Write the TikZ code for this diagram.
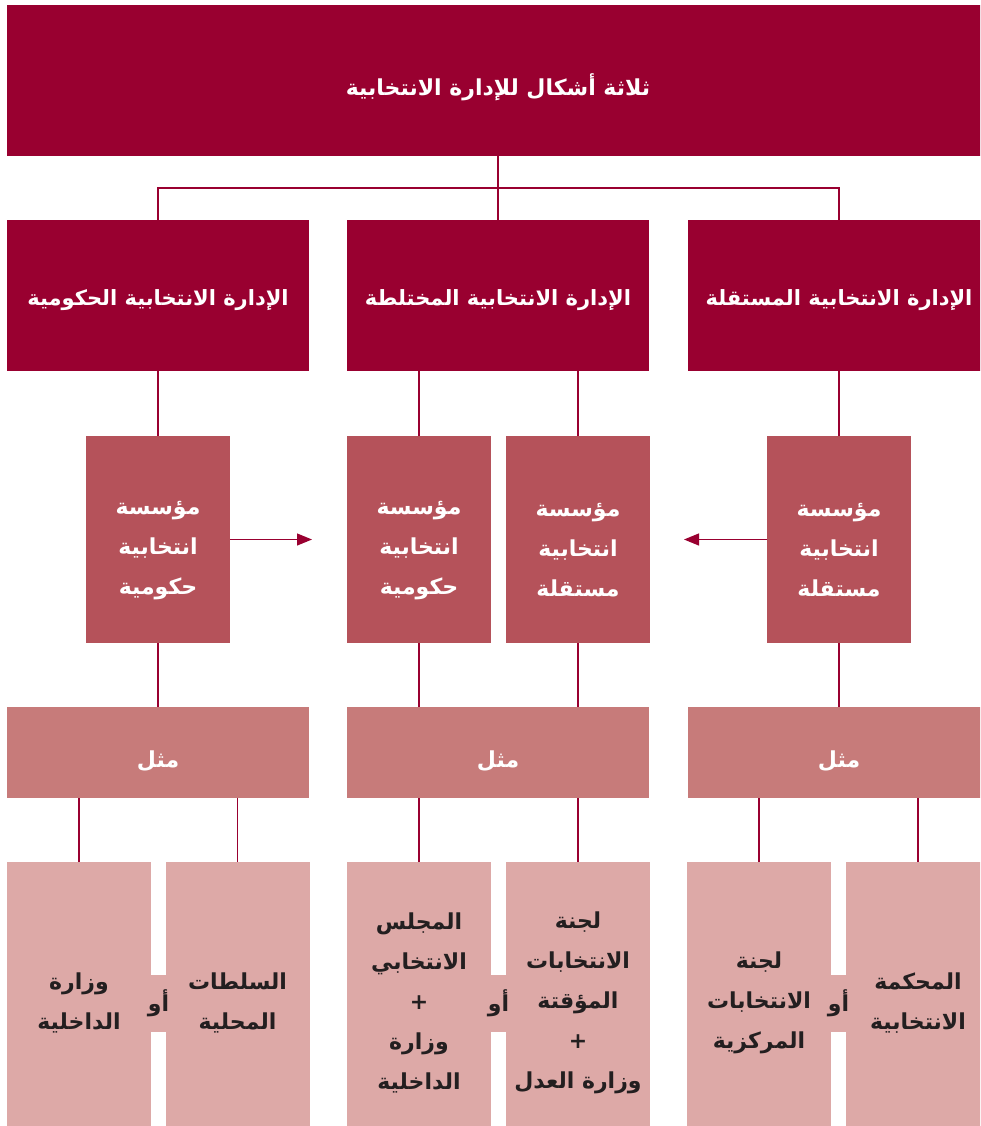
\documentclass[tikz,border=0pt]{standalone}
\usepackage{fontspec}
\newfontfamily\arabicfont[Script=Arabic]{DejaVu Sans}
\TeXXeTstate=1
\usetikzlibrary{arrows.meta}
\definecolor{cA}{HTML}{990030}
\definecolor{cB}{HTML}{B5525A}
\definecolor{cC}{HTML}{C77B7A}
\definecolor{cD}{HTML}{DDA9A7}
\definecolor{txt}{HTML}{231F20}
\newcommand{\ar}[1]{\beginR #1\endR}
\begin{document}
\begin{tikzpicture}[x=1pt,y=-1pt,
  blk/.style={inner sep=0pt, outer sep=0pt, draw=none},
  tx/.style={inner sep=0pt, outer sep=0pt, align=center, text=white,
    font=\arabicfont\bfseries\fontsize{22}{40}\selectfont},
  txh/.style={tx, font=\arabicfont\bfseries\fontsize{21}{40}\selectfont},
  txd/.style={tx, text=txt},
  lvlA/.style={blk, fill=cA, minimum width=302pt, minimum height=151pt},
  lvlB/.style={blk, fill=cB, minimum width=144pt, minimum height=207pt},
  lvlC/.style={blk, fill=cC, minimum width=302pt, minimum height=91pt},
  lvlD/.style={blk, fill=cD, minimum width=144pt, minimum height=282pt},
  bridge/.style={blk, fill=cD, minimum width=16pt, minimum height=57pt},
  ln/.style={draw=cA, line width=1.2pt},
  arr/.style={ln, -{Triangle[length=15pt,width=12pt]}}]
\clip (0,0) rectangle (980,1126);
\fill[white] (0,0) rectangle (980,1126);

% level 1
\node[lvlA, minimum width=982pt] (top) at (498,80.5) {};
\node[tx] (topT) at ([yshift=-7pt]top.center) {\ar{ثلاثة أشكال للإدارة الانتخابية}};

% level 2
\node[lvlA] (gov) at (158,295.5) {};
\node[lvlA] (mix) at (498,295.5) {};
\node[lvlA] (ind) at (839,295.5) {};
\node[txh] (govT) at ([yshift=-5pt]gov.center) {\ar{الإدارة الانتخابية الحكومية}};
\node[txh] (mixT) at ([yshift=-5pt]mix.center) {\ar{الإدارة الانتخابية المختلطة}};
\node[txh] (indT) at ([yshift=-5pt]ind.center) {\ar{الإدارة الانتخابية المستقلة}};

% level 3
\node[lvlB] (govI) at (158,539.5) {};
\node[lvlB] (mixG) at (419,539.5) {};
\node[lvlB] (mixI) at (578,539.5) {};
\node[lvlB] (indI) at (839,539.5) {};
\node[tx] (govIT) at ([yshift=-11pt]govI.center) {\ar{مؤسسة}\\\ar{انتخابية}\\\ar{حكومية}};
\node[tx] (mixGT) at ([yshift=-11pt]mixG.center) {\ar{مؤسسة}\\\ar{انتخابية}\\\ar{حكومية}};
\node[tx] (mixIT) at ([yshift=-11pt]mixI.center) {\ar{مؤسسة}\\\ar{انتخابية}\\\ar{مستقلة}};
\node[tx] (indIT) at ([yshift=-11pt]indI.center) {\ar{مؤسسة}\\\ar{انتخابية}\\\ar{مستقلة}};

% level 4
\node[lvlC] (ex1) at (158,752.5) {};
\node[lvlC] (ex2) at (498,752.5) {};
\node[lvlC] (ex3) at (839,752.5) {};
\node[tx] (ex1T) at ([yshift=-9pt]ex1.center) {\ar{مثل}};
\node[tx] (ex2T) at ([yshift=-9pt]ex2.center) {\ar{مثل}};
\node[tx] (ex3T) at ([yshift=-9pt]ex3.center) {\ar{مثل}};

% level 5
\node[lvlD] (a1) at (79,1003) {};
\node[lvlD] (a2) at (237.5,1003) {};
\node[lvlD] (b1) at (419,1003) {};
\node[lvlD] (b2) at (578,1003) {};
\node[lvlD] (c1) at (759,1003) {};
\node[lvlD] (c2) at (918,1003) {};
\node[txd] (a1T) at (a1.center) {\ar{وزارة}\\\ar{الداخلية}};
\node[txd] (a2T) at (a2.center) {\ar{السلطات}\\\ar{المحلية}};
\node[txd] (b1T) at (b1.center) {\ar{المجلس}\\\ar{الانتخابي}\\+\\\ar{وزارة}\\\ar{الداخلية}};
\node[txd] (b2T) at (b2.center) {\ar{لجنة}\\\ar{الانتخابات}\\\ar{المؤقتة}\\+\\\ar{وزارة العدل}};
\node[txd] (c1T) at (c1.center) {\ar{لجنة}\\\ar{الانتخابات}\\\ar{المركزية}};
\node[txd] (c2T) at (c2.center) {\ar{المحكمة}\\\ar{الانتخابية}};

% bridges
\node[bridge] (or1) at (158.5,1003.5) {};
\node[bridge] (or2) at (498.5,1003.5) {};
\node[bridge] (or3) at (838.5,1003.5) {};
\node[txd] (or1T) at (or1.center) {\ar{أو}};
\node[txd] (or2T) at (or2.center) {\ar{أو}};
\node[txd] (or3T) at (or3.center) {\ar{أو}};

% connectors
\coordinate (bus) at (498,188);
\draw[ln] (top.south) -- (bus);
\draw[ln] (gov.north) |- (bus) -| (ind.north);
\draw[ln] (mix.north) -- (bus);

\draw[ln] (gov.south) -- (govI.north);
\draw[ln] (mixG.north) -- (mixG.north |- mix.south);
\draw[ln] (mixI.north) -- (mixI.north |- mix.south);
\draw[ln] (indI.north) -- (indI.north |- ind.south);

\draw[ln] (govI.south) -- (govI.south |- ex1.north);
\draw[ln] (mixG.south) -- (mixG.south |- ex2.north);
\draw[ln] (mixI.south) -- (mixI.south |- ex2.north);
\draw[ln] (indI.south) -- (indI.south |- ex3.north);

\draw[ln] (a1.north) -- (a1.north |- ex1.south);
\draw[ln] (a2.north) -- (a2.north |- ex1.south);
\draw[ln] (b1.north) -- (b1.north |- ex2.south);
\draw[ln] (b2.north) -- (b2.north |- ex2.south);
\draw[ln] (c1.north) -- (c1.north |- ex3.south);
\draw[ln] (c2.north) -- (c2.north |- ex3.south);

\coordinate (arrL) at (312,539.5);
\coordinate (arrR) at (684,539.5);
\draw[arr] (govI.east) -- (arrL);
\draw[arr] (indI.west) -- (arrR);
\end{tikzpicture}
\end{document}
